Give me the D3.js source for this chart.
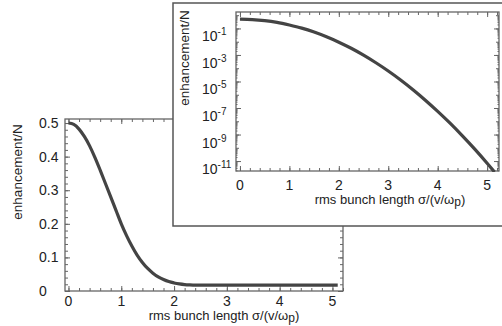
<!DOCTYPE html>
<html lang="en">
  <head>
    <meta charset="utf-8">
    <title>Enhancement vs bunch length</title>
    <script src="https://d3js.org/d3.v7.min.js"></script>
    <style>
      body { margin: 0; background: #fff; }
      text { font-family: "Liberation Sans", Arial, sans-serif; fill: #222; }
      .frame { fill: none; stroke: #666; stroke-width: 1.3; }
      .tick line { stroke: #666; }
      .domain { display: none; }
    </style>
  </head>
  <body>
    <svg id="chart" width="502" height="326"></svg>
    <script>
      // main (linear) panel
      var sigma = [0, 0.1, 0.2, 0.3, 0.4, 0.5, 0.6, 0.7, 0.8, 0.9, 1.0, 1.1, 1.2, 1.3, 1.4,
                   1.5, 1.6, 1.7, 1.8, 1.9, 2.0, 2.1, 2.2, 2.3, 2.4, 3.0, 4.0, 5.1];
      var enhancement = [0.5, 0.496, 0.482, 0.46, 0.432, 0.398, 0.36, 0.32, 0.28, 0.24, 0.2,
                         0.165, 0.134, 0.107, 0.085, 0.067, 0.053, 0.042, 0.034, 0.028, 0.024,
                         0.021, 0.019, 0.018, 0.0175, 0.0175, 0.0175, 0.0175];
      // inset (log) panel
      var insetSigma = [0, 0.25, 0.5, 0.75, 1.0, 1.25, 1.5, 1.75, 2.0, 2.25, 2.5, 2.75, 3.0,
                        3.25, 3.5, 3.75, 4.0, 4.25, 4.5, 4.75, 5.0, 5.15];
      var insetEnhancement = [0.5, 0.47, 0.39, 0.285, 0.18, 0.105, 0.053, 0.0234, 9.2e-3,
                              3.2e-3, 9.7e-4, 2.6e-4, 6.2e-5, 1.3e-5, 2.4e-6, 3.9e-7, 5.6e-8,
                              7.2e-9, 8e-10, 8e-11, 6.9e-12, 1.5e-12];
      var xTicks = [0, 1, 2, 3, 4, 5];
      var yTicks = [0, 0.1, 0.2, 0.3, 0.4, 0.5];
      var yTickLabels = ["0", "0.1", "0.2", "0.3", "0.4", "0.5"];
      var logExponents = [-1, -3, -5, -7, -9, -11];
      var yTitle = "enhancement/N";
      var xTitle = "rms bunch length \u03c3/(v/\u03c9";

      var svg = d3.select("#chart");

      function minorRange(a, b, step) {
        return d3.range(Math.round(a / step), Math.round(b / step) + 1).map(function(i) { return +(i * step).toFixed(4); });
      }

      function addXTitle(g, cx, y) {
        var t = g.append("text").attr("x", cx).attr("y", y).attr("text-anchor", "middle")
          .attr("font-size", 13).text(xTitle);
        t.append("tspan").attr("font-size", 12).attr("dy", 2).text("p");
        t.append("tspan").attr("dy", -2).text(")");
      }

      // ---------- main panel ----------
      var x = d3.scaleLinear().domain([-0.066, 5.2]).range([65, 343]);
      var y = d3.scaleLinear().domain([0, 0.512]).range([291, 119]);
      var main = svg.append("g");

      function ticksX(g, sc, yPos, dir, major, minor) {
        g.append("g").attr("transform", "translate(0," + yPos + ")")
          .call((dir > 0 ? d3.axisBottom(sc) : d3.axisTop(sc)).tickValues(minor).tickSize(-3).tickFormat(""));
        g.append("g").attr("transform", "translate(0," + yPos + ")")
          .call((dir > 0 ? d3.axisBottom(sc) : d3.axisTop(sc)).tickValues(major).tickSize(-5).tickFormat(""));
      }
      function ticksY(g, sc, xPos, dir, major, minor, minorLen) {
        g.append("g").attr("transform", "translate(" + xPos + ",0)")
          .call((dir > 0 ? d3.axisLeft(sc) : d3.axisRight(sc)).tickValues(minor).tickSize(-(minorLen || 3)).tickFormat(""));
        g.append("g").attr("transform", "translate(" + xPos + ",0)")
          .call((dir > 0 ? d3.axisLeft(sc) : d3.axisRight(sc)).tickValues(major).tickSize(-5).tickFormat(""));
      }

      var xMinor = minorRange(0, 5.2, 0.2);
      var yMinor = minorRange(0, 0.5, 0.02);
      ticksX(main, x, 291, 1, xTicks, xMinor);
      ticksX(main, x, 119, -1, xTicks, xMinor);
      ticksY(main, y, 65, 1, yTicks, yMinor);
      ticksY(main, y, 343, -1, yTicks, yMinor);
      main.append("rect").attr("class", "frame").attr("x", 65).attr("y", 119).attr("width", 278).attr("height", 172);

      main.append("path")
        .datum(sigma.map(function(s, i) { return [s, enhancement[i]]; }))
        .attr("fill", "none").attr("stroke", "#444").attr("stroke-width", 3.2)
        .attr("d", d3.line().x(function(d) { return x(d[0]); }).y(function(d) { return y(d[1]); }).curve(d3.curveMonotoneX));

      main.selectAll(".xl").data(xTicks).enter().append("text")
        .attr("x", function(d) { return x(d); }).attr("y", 306).attr("text-anchor", "middle")
        .attr("font-size", 14).text(function(d) { return d; });
      main.selectAll(".yl").data(yTicks).enter().append("text")
        .attr("x", 39).attr("y", function(d) { return y(d) + 5; })
        .attr("font-size", 14).text(function(d, i) { return yTickLabels[i]; });
      addXTitle(main, 224, 320);
      main.append("text").attr("transform", "translate(22,172) rotate(-90)").attr("text-anchor", "middle")
        .attr("font-size", 13.5).text(yTitle);

      // ---------- inset panel ----------
      svg.append("rect").attr("x", 173).attr("y", 3).attr("width", 340).attr("height", 223)
        .attr("fill", "#fff").attr("stroke", "#555").attr("stroke-width", 1.5);

      var ix = d3.scaleLinear().domain([-0.08, 5.24]).range([236, 499]);
      var iy = d3.scaleLog().domain([Math.pow(10, -11.75), Math.pow(10, 0.24)]).range([171, 12]);
      var inset = svg.append("g");

      var decades = d3.range(-11, 1).map(function(e) { return Math.pow(10, e); });
      var majorLog = logExponents.map(function(e) { return Math.pow(10, e); });
      var subLog = [];
      d3.range(-12, 0).forEach(function(e) {
        [2, 3, 4, 5, 6, 7, 8, 9].forEach(function(m) {
          var v = m * Math.pow(10, e);
          if (v > iy.domain()[0] && v < iy.domain()[1]) subLog.push(v);
        });
      });
      var ixMinor = minorRange(0, 5.2, 0.2);
      ticksX(inset, ix, 171, 1, xTicks, ixMinor);
      ticksX(inset, ix, 12, -1, xTicks, ixMinor);
      ticksY(inset, iy, 236, 1, majorLog, subLog, 1.5);
      ticksY(inset, iy, 499, -1, majorLog, subLog, 1.5);
      ticksY(inset, iy, 236, 1, [], decades, 3);
      ticksY(inset, iy, 499, -1, [], decades, 3);
      inset.append("rect").attr("class", "frame").attr("x", 236).attr("y", 12).attr("width", 263).attr("height", 159);

      inset.append("clipPath").attr("id", "insetClip").append("rect")
        .attr("x", 236).attr("y", 12).attr("width", 263).attr("height", 160);
      inset.append("path")
        .datum(insetSigma.map(function(s, i) { return [s, insetEnhancement[i]]; }))
        .attr("clip-path", "url(#insetClip)")
        .attr("fill", "none").attr("stroke", "#444").attr("stroke-width", 3.2)
        .attr("d", d3.line().x(function(d) { return ix(d[0]); }).y(function(d) { return iy(d[1]); }).curve(d3.curveMonotoneX));

      inset.selectAll(".xl").data(xTicks).enter().append("text")
        .attr("x", function(d) { return ix(d); }).attr("y", 190).attr("text-anchor", "middle")
        .attr("font-size", 14).text(function(d) { return d; });
      var lab = inset.selectAll(".yl").data(logExponents).enter().append("text")
        .attr("x", 202).attr("y", function(d) { return iy(Math.pow(10, d)) + 13; })
        .attr("font-size", 14).text("10");
      lab.append("tspan").attr("dy", -6).attr("font-size", 10).text(function(d) { return "-" + (-d); });
      addXTitle(inset, 390, 204);
      inset.append("text").attr("transform", "translate(189,58) rotate(-90)").attr("text-anchor", "middle")
        .attr("font-size", 13.5).text(yTitle);
    </script>
  </body>
</html>
